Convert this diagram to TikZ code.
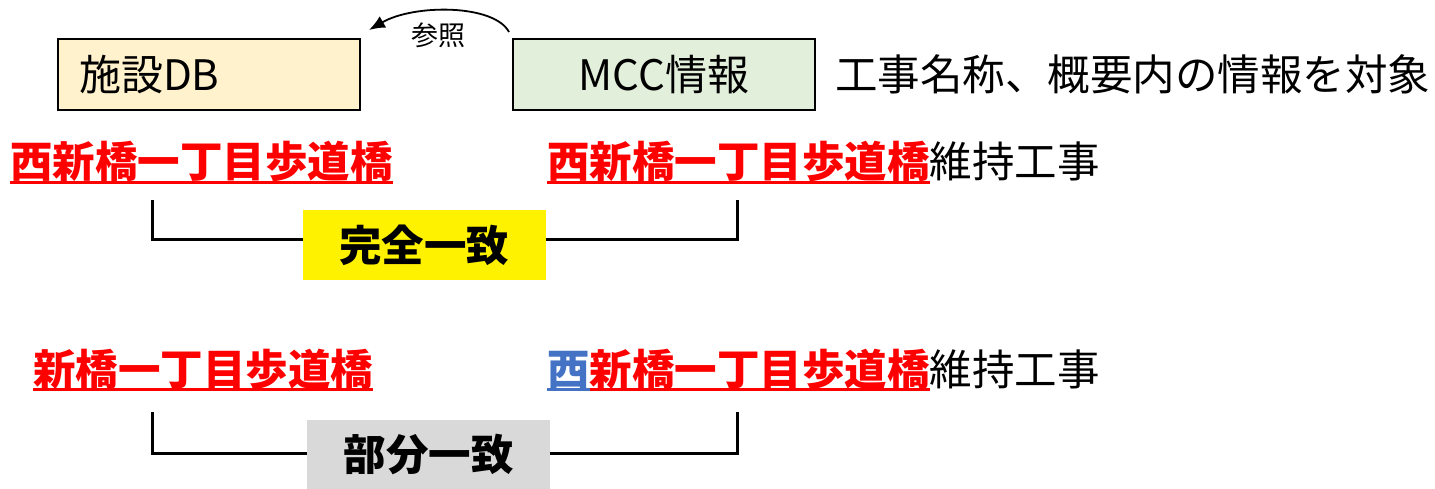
\documentclass[tikz,border=0pt]{standalone}
\usepackage{fontspec}
\setmainfont{Noto Sans CJK JP}
\usetikzlibrary{arrows.meta, positioning, calc}
\definecolor{dbfill}{RGB}{255,242,204}
\definecolor{mccfill}{RGB}{226,239,218}
\definecolor{hitred}{RGB}{255,0,0}
\definecolor{hitblue}{RGB}{68,114,196}
\definecolor{partgray}{RGB}{217,217,217}
\newcommand{\bigfont}{\fontsize{42.5}{50}\selectfont}
\newcommand{\boxfont}{\fontsize{42}{48}\selectfont}
\newcommand{\reffont}{\fontsize{27}{32}\selectfont}
\newcommand{\ulword}[1]{\setbox0\hbox{#1}\rlap{\rule[-0.14em]{\wd0}{0.07em}}\box0}

\begin{document}
\begin{tikzpicture}[x=1pt, y=-1pt,
  srcbox/.style={draw, line width=2pt, minimum height=71pt, font=\boxfont},
  hitlabel/.style={anchor=base west, inner sep=0pt, font=\bigfont},
  judge/.style={minimum width=243pt, minimum height=69pt, inner sep=0pt, font=\bigfont\bfseries},
  bracket/.style={line width=3pt}]
\useasboundingbox (0,0) rectangle (1435,489);

% sources
\node[srcbox, fill=dbfill, text width=260pt, inner xsep=21pt, align=left] (db) at (209,74.5) {施設DB};
\node[srcbox, fill=mccfill, minimum width=302pt] (mcc) at (664,74.5) {MCC情報};
\node[anchor=west, inner sep=0pt, font=\bigfont] (note) at (835,74.5) {工事名称、概要内の情報を対象};

\coordinate (refout) at ($(mcc.north west)+(-3,-6)$);
\coordinate (refin) at ($(db.north east)+(8,-8)$);
\draw[-{Latex[length=16pt,width=13pt]}, line width=1.8pt] (refout) .. controls +(-15,-28) and +(45,-26) .. (refin);
\node[font=\reffont] (ref) at (438,35) {参照};

% exact match
\node[hitlabel, text=hitred] (dbname1) at (10,178) {\bfseries\ulword{西新橋一丁目歩道橋}};
\node[hitlabel] (mccname1) at (547,178) {{\color{hitred}\bfseries\ulword{西新橋一丁目歩道橋}}維持工事};
\coordinate (b1l) at (152,200);
\coordinate (b1r) at (737,200);
\draw[bracket] (b1l) -- ++(0,40) -| (b1r);
\node[judge, fill=yellow] (full) at (424,245) {完全一致};

% partial match
\node[hitlabel, text=hitred] (dbname2) at (33,385) {\bfseries\ulword{新橋一丁目歩道橋}};
\node[hitlabel] (mccname2) at (547,385) {{\color{hitblue}\bfseries\ulword{西}}{\color{hitred}\bfseries\ulword{新橋一丁目歩道橋}}維持工事};
\coordinate (b2l) at (152,412);
\coordinate (b2r) at (737,412);
\draw[bracket] (b2l) -- ++(0,41) -| (b2r);
\node[judge, fill=partgray] (part) at (428.5,454) {部分一致};
\end{tikzpicture}
\end{document}
